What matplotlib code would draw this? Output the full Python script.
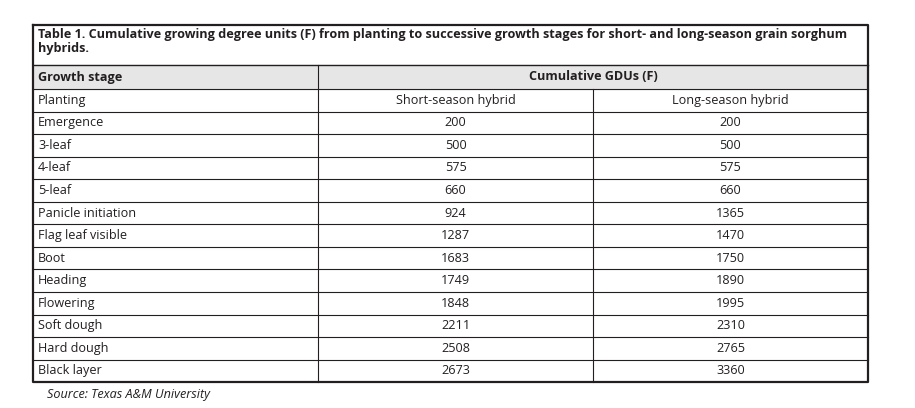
import matplotlib.pyplot as plt

plt.rcParams['font.family'] = ['Open Sans', 'DejaVu Sans']

title = ("Table 1. Cumulative growing degree units (F) from planting to successive growth stages "
         "for short- and long-season grain sorghum\nhybrids.")
stages = ["Planting", "Emergence", "3-leaf", "4-leaf", "5-leaf", "Panicle initiation",
          "Flag leaf visible", "Boot", "Heading", "Flowering", "Soft dough", "Hard dough", "Black layer"]
short_season = ["Short-season hybrid", 200, 500, 575, 660, 924, 1287, 1683, 1749, 1848, 2211, 2508, 2673]
long_season = ["Long-season hybrid", 200, 500, 575, 660, 1365, 1470, 1750, 1890, 1995, 2310, 2765, 3360]

fs = 9.05

fig = plt.figure(figsize=(9.15, 4.08), dpi=100)
ax = fig.add_axes([0, 0, 1, 1])
ax.set_xlim(0, 915)
ax.set_ylim(408, 0)
ax.axis("off")

left, right = 33, 868
c1, c2 = 318, 593
top, hdr_top, hdr_bot = 25, 65, 89
row_h = 22.55
bottom = hdr_bot + row_h * len(stages)

# header background
ax.fill_between([left, right], hdr_top, hdr_bot, color="#e6e6e6", zorder=0)

# outer box and grid
ax.plot([left, right, right, left, left], [top, top, bottom, bottom, top], color="#231f20", lw=1.6)
ax.plot([left, right], [hdr_top, hdr_top], color="#231f20", lw=1.0)
ax.plot([c1, c1], [hdr_top, bottom], color="#231f20", lw=0.8)
ax.plot([c2, c2], [hdr_bot, bottom], color="#231f20", lw=0.8)
for i in range(len(stages)):
    y = hdr_bot + row_h * i
    ax.plot([left, right], [y, y], color="#231f20", lw=0.8)

ax.text(left + 5, top + 3, title, fontsize=fs, fontweight="bold", va="top", ha="left",
        color="#231f20", linespacing=1.1)
ax.text(left + 5, (hdr_top + hdr_bot) / 2, "Growth stage", fontsize=fs, fontweight="bold",
        va="center", ha="left", color="#231f20")
ax.text((c1 + right) / 2, (hdr_top + hdr_bot) / 2, "Cumulative GDUs (F)", fontsize=fs,
        fontweight="bold", va="center", ha="center", color="#231f20")

for i, (s, a, b) in enumerate(zip(stages, short_season, long_season)):
    y = hdr_bot + row_h * (i + 0.5)
    ax.text(left + 5, y, s, fontsize=fs, va="center", ha="left", color="#231f20")
    ax.text((c1 + c2) / 2, y, str(a), fontsize=fs, va="center", ha="center", color="#231f20")
    ax.text((c2 + right) / 2, y, str(b), fontsize=fs, va="center", ha="center", color="#231f20")

ax.text(left + 14, bottom + 12, "Source: Texas A&M University", fontsize=fs, style="italic",
        va="center", ha="left", color="#231f20")

fig.savefig("out.png", dpi=100)
